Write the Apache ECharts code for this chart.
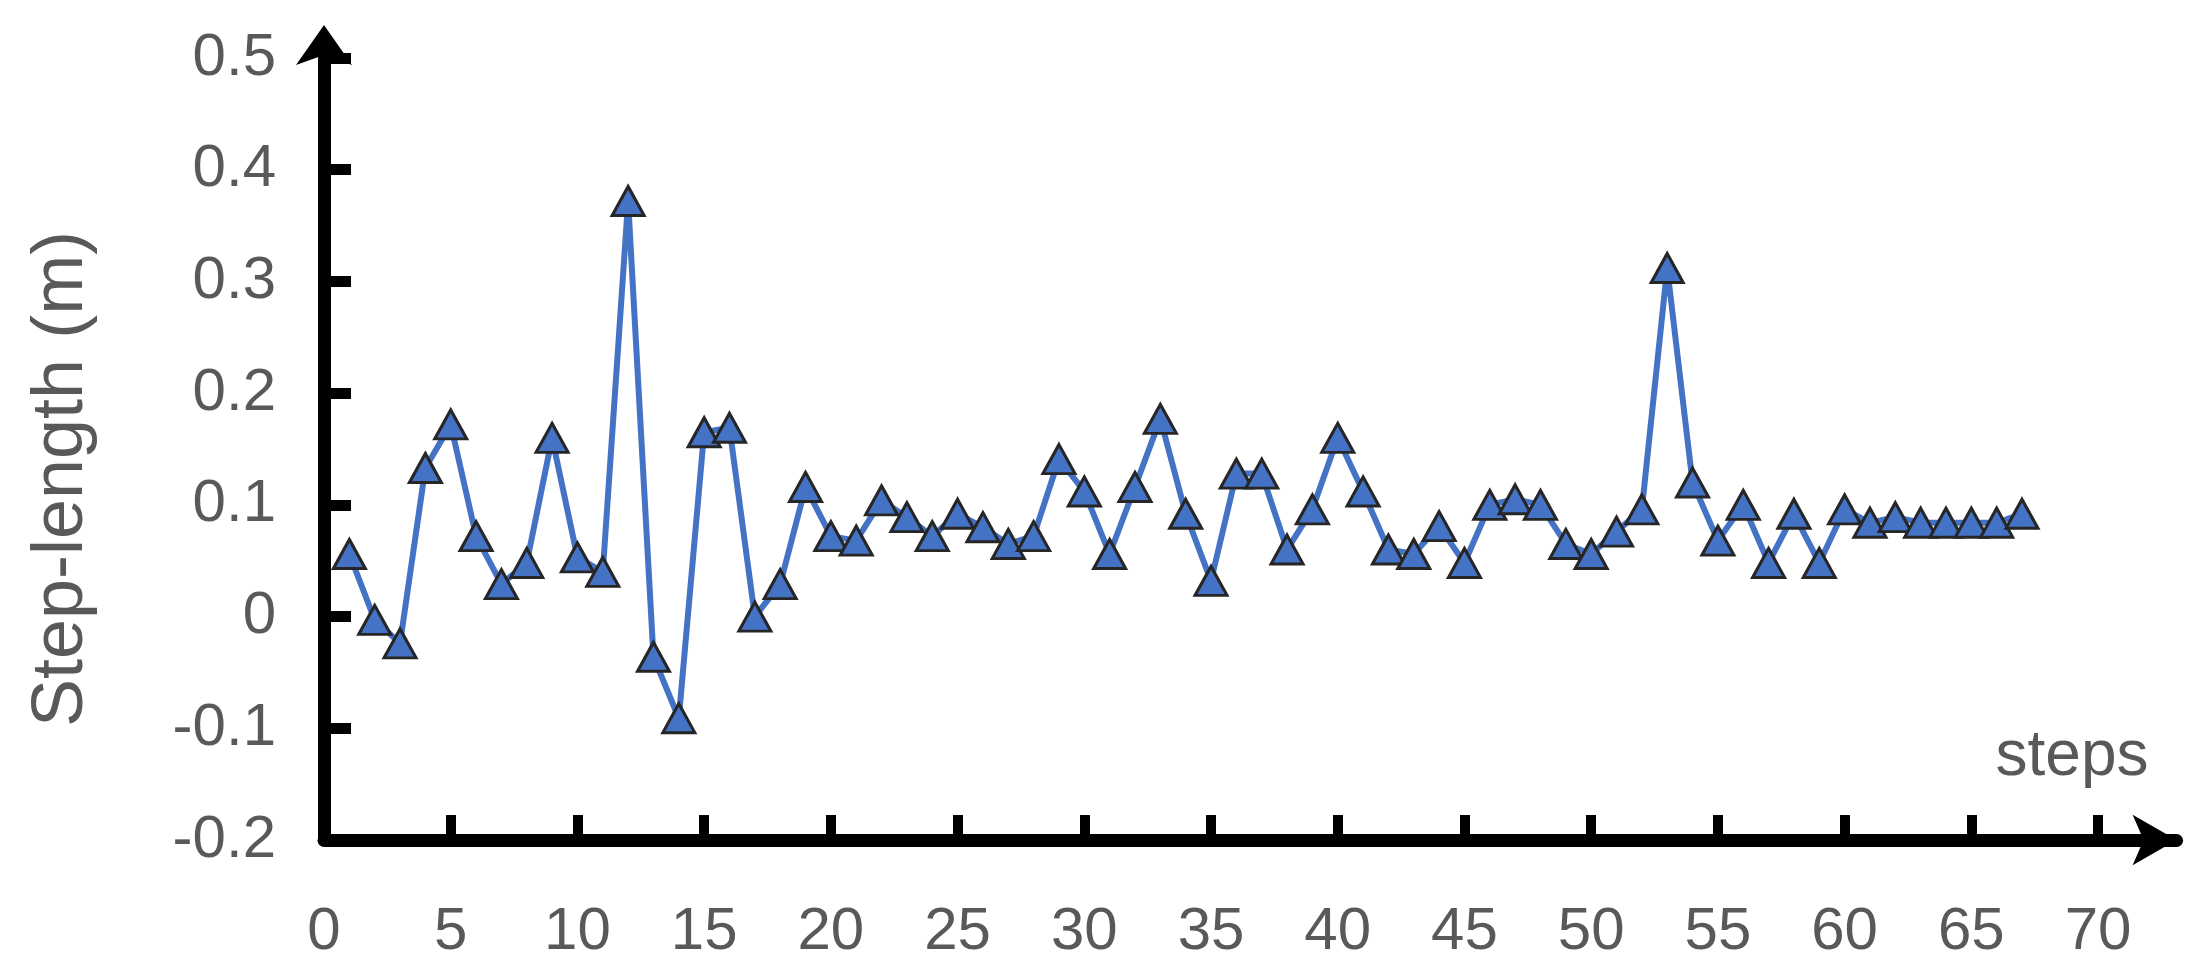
<!DOCTYPE html>
<html>
<head>
<meta charset="utf-8">
<script src="https://cdn.jsdelivr.net/npm/echarts@6/dist/echarts.min.js"></script>
<style>
  html, body { margin: 0; padding: 0; background: #fff; }
  #main { width: 2193px; height: 979px; }
</style>
</head>
<body>
<div id="main"></div>
<script>
// step index and measured step-length (m)
const steps = [];
for (let i = 1; i <= 67; i++) steps.push(i);
const stepLength = [
  0.056, -0.003, -0.024, 0.133, 0.172, 0.072, 0.029, 0.048, 0.160, 0.053,
  0.040, 0.372, -0.036, -0.091, 0.165, 0.169, 0.000, 0.029, 0.116, 0.072,
  0.068, 0.104, 0.089, 0.072, 0.092, 0.080, 0.065, 0.072, 0.141, 0.112,
  0.056, 0.116, 0.177, 0.092, 0.032, 0.128, 0.128, 0.060, 0.096, 0.160,
  0.112, 0.060, 0.056, 0.081, 0.048, 0.100, 0.105, 0.100, 0.065, 0.056,
  0.076, 0.096, 0.312, 0.120, 0.068, 0.100, 0.048, 0.092, 0.048, 0.096,
  0.084, 0.089, 0.084, 0.084, 0.084, 0.084, 0.092
];
const xTicks = [0, 5, 10, 15, 20, 25, 30, 35, 40, 45, 50, 55, 60, 65, 70];

const myChart = echarts.init(document.getElementById('main'));

const labelColor = '#595959';
const numFont = '"Liberation Sans Narrow", "Liberation Sans", sans-serif';

const option = {
  backgroundColor: '#fff',
  animation: false,
  grid: { left: 324, top: 58, width: 1852.6, height: 782 },
  xAxis: {
    type: 'value',
    min: 0,
    max: 73.1,
    axisLine: {
      onZero: false,
      lineStyle: { color: '#000', width: 13 },
      symbol: ['none', 'arrow'],
      symbolSize: [38, 44],
      symbolOffset: [0, 0]
    },
    axisTick: { inside: true, length: 25, customValues: xTicks, lineStyle: { color: '#000', width: 10 } },
    axisLabel: {
      customValues: xTicks,
      margin: 62,
      color: labelColor,
      fontSize: 60,
      fontFamily: numFont
    },
    splitLine: { show: false }
  },
  yAxis: {
    type: 'value',
    min: -0.2,
    max: 0.5,
    interval: 0.1,
    axisLine: {
      lineStyle: { color: '#000', width: 13 },
      symbol: ['none', 'arrow'],
      symbolSize: [42, 40],
      symbolOffset: [0, 33]
    },
    axisTick: { inside: true, length: 27, lineStyle: { color: '#000', width: 11 } },
    axisLabel: {
      margin: 48,
      color: labelColor,
      fontSize: 60,
      fontFamily: numFont,
      formatter: v => String(Math.round(v * 10) / 10)
    },
    splitLine: { show: false }
  },
  graphic: [
    {
      type: 'text',
      x: 62,
      y: 479,
      rotation: Math.PI / 2,
      style: {
        text: 'Step-length (m)',
        fill: labelColor,
        font: '72px "Liberation Sans Narrow", sans-serif',
        align: 'center',
        verticalAlign: 'middle'
      }
    },
    {
      type: 'text',
      x: 2072,
      y: 757,
      style: {
        text: 'steps',
        fill: labelColor,
        font: '64px "Liberation Sans", sans-serif',
        align: 'center',
        verticalAlign: 'middle'
      }
    }
  ],
  series: [
    {
      type: 'line',
      data: steps.map((s, i) => [s, stepLength[i]]),
      lineStyle: { color: '#4472C4', width: 6 },
      symbol: 'triangle',
      symbolSize: [32, 29],
      itemStyle: { color: '#4472C4', borderColor: '#262626', borderWidth: 3 },
      z: 3
    }
  ]
};

myChart.setOption(option);
</script>
</body>
</html>
